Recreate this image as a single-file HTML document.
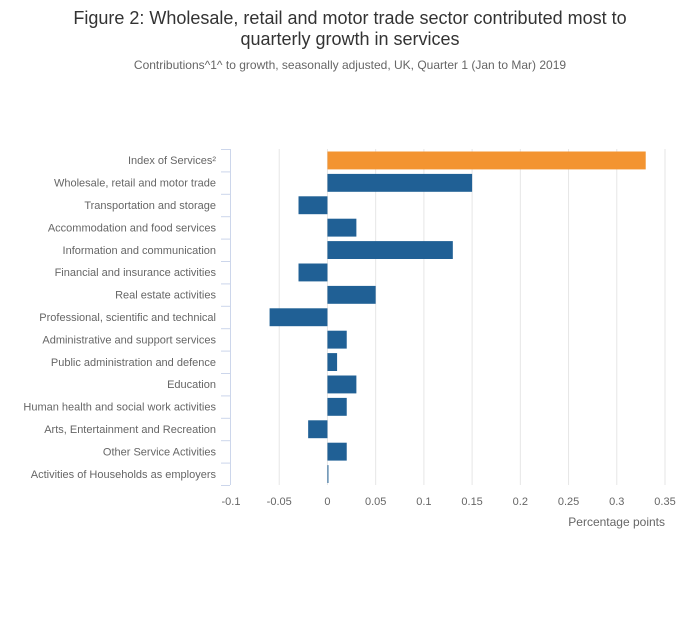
<!DOCTYPE html>
<html><head><meta charset="utf-8"><style>
body{margin:0;background:#fff;font-family:"Liberation Sans",sans-serif}
</style></head><body>
<svg width="700" height="635" xmlns="http://www.w3.org/2000/svg" font-family="Liberation Sans, sans-serif">
<text x="350" y="24" text-anchor="middle" font-size="18" fill="#333">Figure 2: Wholesale, retail and motor trade sector contributed most to</text>
<text x="350" y="45" text-anchor="middle" font-size="18" fill="#333">quarterly growth in services</text>
<text x="350" y="69" text-anchor="middle" font-size="12" fill="#666">Contributions^1^ to growth, seasonally adjusted, UK, Quarter 1 (Jan to Mar) 2019</text>
<g id="grid"></g><g id="bars"></g><g id="axes"></g>
<text x="665" y="526" text-anchor="end" font-size="12" fill="#666">Percentage points</text>
</svg>
<script>
const categories=["Index of Services²","Wholesale, retail and motor trade","Transportation and storage","Accommodation and food services","Information and communication","Financial and insurance activities","Real estate activities","Professional, scientific and technical","Administrative and support services","Public administration and defence","Education","Human health and social work activities","Arts, Entertainment and Recreation","Other Service Activities","Activities of Households as employers"];
const values=[0.33,0.15,-0.03,0.03,0.13,-0.03,0.05,-0.06,0.02,0.01,0.03,0.02,-0.02,0.02,0.001];
const tickValues=[-0.1,-0.05,0,0.05,0.1,0.15,0.2,0.25,0.3,0.35];
const tickLabels=["-0.1","-0.05","0","0.05","0.1","0.15","0.2","0.25","0.3","0.35"];
const NS="http://www.w3.org/2000/svg";
const x0=231,x1=665,vmin=-0.1,vmax=0.35,plotTop=149,plotBot=485;
const xs=v=>x0+(v-vmin)/(vmax-vmin)*(x1-x0);
const step=(plotBot-plotTop)/categories.length;
const ys=i=>plotTop+i*step;
function mk(t,a,p){const e=document.createElementNS(NS,t);for(const k in a)e.setAttribute(k,a[k]);p.appendChild(e);return e;}
const grid=document.getElementById('grid'),bars=document.getElementById('bars'),axes=document.getElementById('axes');
tickValues.forEach((v,i)=>{
 if(v!==vmin){const l=mk('line',{x1:xs(v),x2:xs(v),y1:plotTop,y2:plotBot,stroke:'#e6e6e6'},grid);
 
 }
 const t=mk('text',{x:xs(v),y:505,'text-anchor':'middle','font-size':11,fill:'#666'},axes);t.textContent=tickLabels[i];
 
 
});
const al=mk('line',{x1:230.5,x2:230.5,y1:plotTop,y2:plotBot,stroke:'#ccd6eb'},axes);


for(let i=0;i<=categories.length;i++){const tk=mk('line',{x1:221,x2:230,y1:ys(i)+0.5,y2:ys(i)+0.5,stroke:'#ccd6eb'},axes);
 
 }
categories.forEach((c,i)=>{
 const t=mk('text',{x:216,y:ys(i)+step/2+4,'text-anchor':'end','font-size':11,fill:'#666'},axes);t.textContent=c;
 
 
 const v=values[i],a=xs(Math.min(0,v)),b=xs(Math.max(0,v));
 const r=mk('rect',{x:a,y:ys(i)+2.5,width:Math.max(1,b-a),height:step-4.5,fill:i===0?'#f39431':'#206095'},bars);
 
 
});
</script>
</body></html>
